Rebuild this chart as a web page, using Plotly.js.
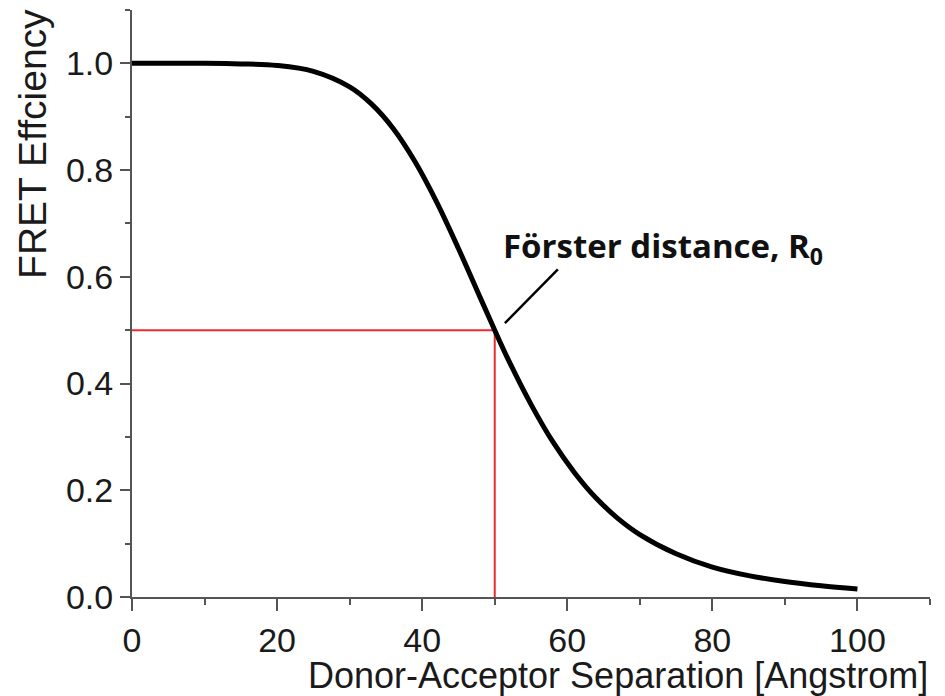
<!DOCTYPE html>
<html>
<head>
<meta charset="utf-8">
<script src="https://cdn.plot.ly/plotly-3.0.1.min.js"></script>
<style>html,body{margin:0;padding:0;background:#fff;}#chart{width:945px;height:696px;}</style>
</head>
<body>
<div id="chart"></div>
<script>
// Donor-acceptor separation (Angstrom) and FRET efficiency
const separation = [0, 5, 10, 15, 20, 25, 30, 33, 36, 39, 42, 45, 48, 50, 52, 55, 58, 61, 64, 67, 70, 75, 80, 85, 90, 95, 100];
const efficiency = [1.0, 1.0, 1.0, 0.999, 0.996, 0.985, 0.956, 0.924, 0.878, 0.816, 0.74, 0.653, 0.561, 0.5, 0.441, 0.361, 0.291, 0.233, 0.185, 0.147, 0.117, 0.081, 0.056, 0.04, 0.029, 0.021, 0.015];
// Förster distance marker (R0 = 50, E = 0.5)
const markerX = [0, 50, 50];
const markerY = [0.5, 0.5, 0];
const xTicks = [0, 20, 40, 60, 80, 100];
const yTicks = [0.0, 0.2, 0.4, 0.6, 0.8, 1.0];

const tickFont = {family: 'Liberation Sans, Arial, sans-serif', size: 34, color: '#1a1a1a'};

const traces = [
  {x: markerX, y: markerY, type: 'scatter', mode: 'lines',
   line: {color: '#ee2a2f', width: 2}, hoverinfo: 'skip', showlegend: false},
  {x: separation, y: efficiency, type: 'scatter', mode: 'lines',
   line: {color: '#000000', width: 5, shape: 'spline', smoothing: 1}, showlegend: false}
];

const layout = {
  width: 945, height: 696,
  margin: {l: 132, r: 15, t: 10, b: 99},
  paper_bgcolor: '#ffffff', plot_bgcolor: '#ffffff',
  showlegend: false,
  xaxis: {
    range: [0, 110], showgrid: false, zeroline: false,
    showline: true, linecolor: '#555555', linewidth: 2,
    ticks: 'outside', ticklen: 12, tickwidth: 2, tickcolor: '#555555',
    tickvals: xTicks, ticktext: xTicks.map(String),
    minor: {dtick: 10, tick0: 0, ticks: 'outside', ticklen: 6, tickwidth: 2, tickcolor: '#555555', showgrid: false},
    tickfont: tickFont
  },
  yaxis: {
    range: [0, 1.1], showgrid: false, zeroline: false,
    showline: true, linecolor: '#555555', linewidth: 2,
    ticks: 'outside', ticklen: 10, tickwidth: 2, tickcolor: '#555555',
    tickvals: yTicks, ticktext: yTicks.map(v => v.toFixed(1)),
    minor: {dtick: 0.1, tick0: 0, ticks: 'outside', ticklen: 5, tickwidth: 2, tickcolor: '#555555', showgrid: false},
    tickfont: tickFont
  },
  shapes: [
    {type: 'line', xref: 'x', yref: 'y', x0: 51.4, y0: 0.513, x1: 58.7, y1: 0.614,
     line: {color: '#000000', width: 2.5}}
  ],
  annotations: [
    {xref: 'paper', yref: 'paper', x: 0.609, y: -0.133, xanchor: 'center', yanchor: 'middle',
     text: 'Donor-Acceptor Separation [Angstrom]', showarrow: false,
     font: {family: 'Liberation Sans, Arial, sans-serif', size: 36, color: '#1a1a1a'}},
    {xref: 'paper', yref: 'paper', x: -0.124, y: 0.772, xanchor: 'center', yanchor: 'middle',
     text: 'FRET Effciency', textangle: -90, showarrow: false,
     font: {family: 'Liberation Sans, Arial, sans-serif', size: 39, color: '#1a1a1a'}},
    {xref: 'x', yref: 'y', x: 50.9, y: 0.655, xanchor: 'left', yanchor: 'middle',
     text: '<b>Förster distance, R<sub>0</sub></b>', showarrow: false,
     font: {family: 'Open Sans, sans-serif', size: 33, color: '#111111'}}
  ]
};

Plotly.newPlot('chart', traces, layout, {displayModeBar: false, staticPlot: true});
</script>
</body>
</html>
